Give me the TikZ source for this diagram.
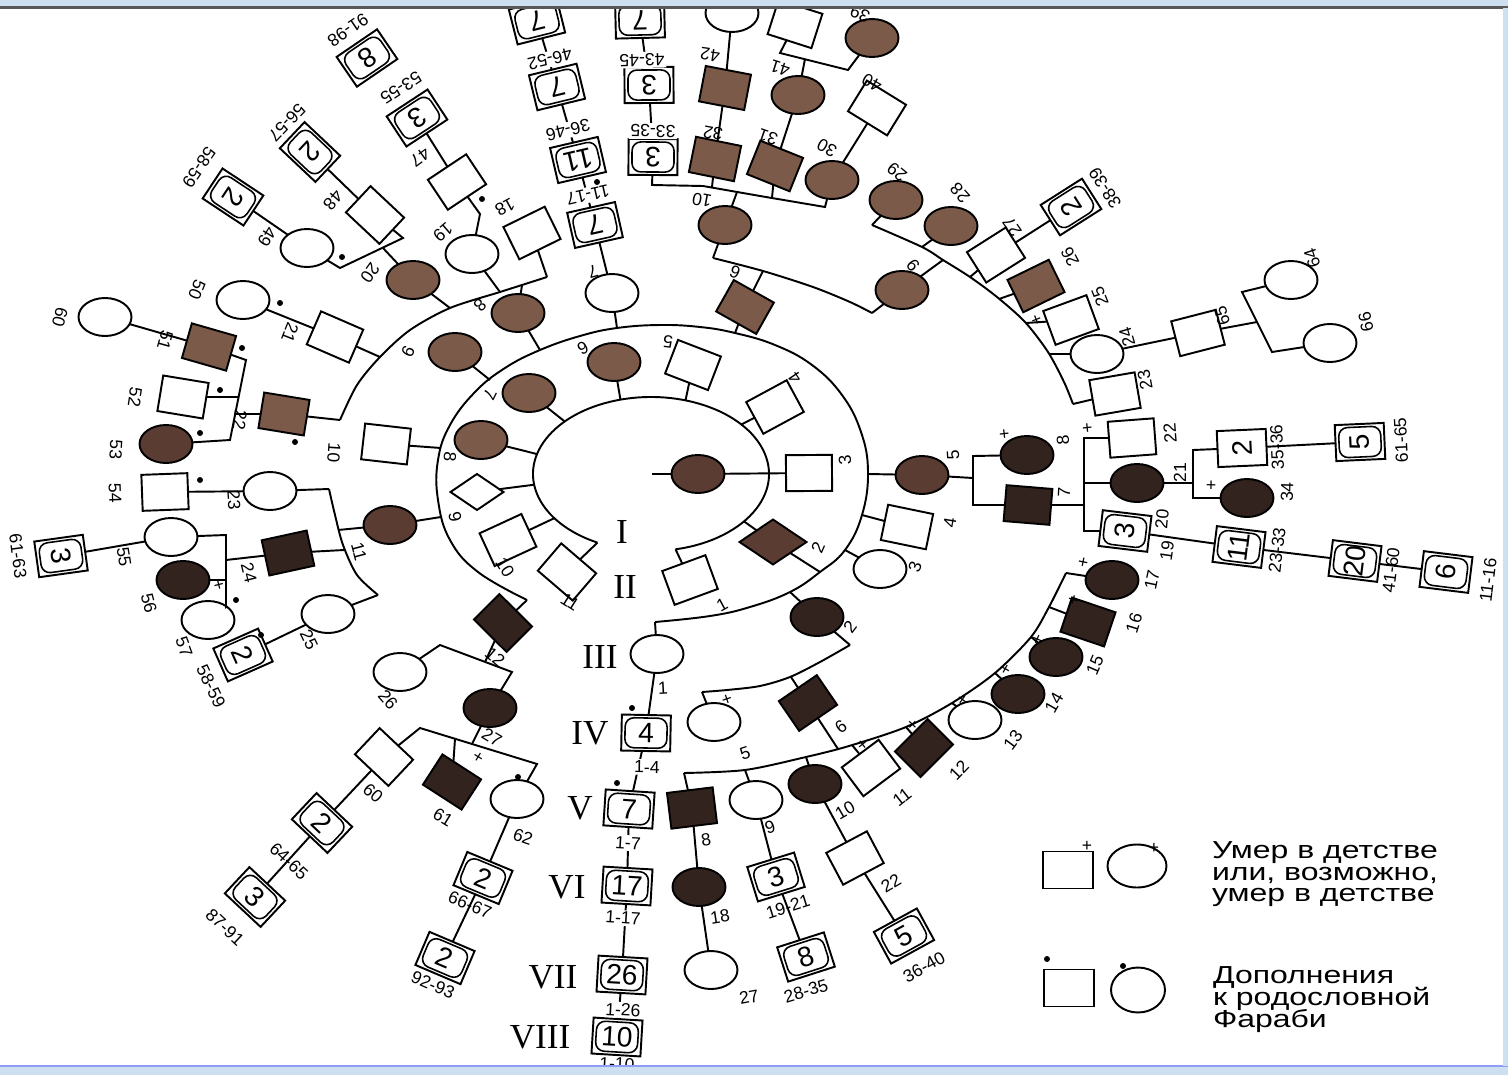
\documentclass[tikz,border=0pt]{standalone}
\usepackage{fontspec}
\setmainfont{Liberation Serif}
\newfontfamily\sansf{Liberation Sans}
\usetikzlibrary{shapes.geometric}
\definecolor{bA}{RGB}{124,90,74}
\definecolor{bB}{RGB}{90,60,50}
\definecolor{bC}{RGB}{50,35,31}
\definecolor{barblue}{RGB}{206,223,241}
\newcounter{lbc}
\newcounter{dtc}
\newcommand\radang[2]{atan2(474-(#2),(#1)-651)}
\newcommand\redang[2]{mod(\radang{#1}{#2}+405,90)-45}
\newcommand\pCI[4]{\node[ci,fill=#4] (#1) at (#2,#3) {};}
\newcommand\pSQ[4]{\node[sq,fill=#4,rotate={\redang{#2}{#3}}] (#1) at (#2,#3) {};}
\newcommand\pBXset[2]{%
  \pgfmathsetmacro\bR{\radang{#1}{#2}+90}%
  \pgfmathtruncatemacro\bk{mod(round((\bR+360)/90),2)}%
  \ifnum\bk=1 \def\bw{0.72cm}\def\bh{0.98cm}\def\bwi{15}\def\bhi{21}%
  \else \def\bw{0.98cm}\def\bh{0.72cm}\def\bwi{21}\def\bhi{15}\fi}
\newcommand\pBX[4]{\pBXset{#2}{#3}%
  \node[bxo,rotate=\bR,minimum width=\bw,minimum height=\bh] (#1) at (#2,#3) {#4};%
  \draw[rotate around={\bR:(#2,#3)},rounded corners=5pt,line width=0.9pt] (#2-\bwi,#3-\bhi) rectangle (#2+\bwi,#3+\bhi);}
\newcommand\pSQN[4]{\pBXset{#2}{#3}%
  \node[bxo,rotate=\bR,minimum width=\bw,minimum height=\bh] (#1) at (#2,#3) {#4};}
\newcommand\pLB[3]{\stepcounter{lbc}\node[lab,rotate={\radang{#1}{#2}+90}] (lb\arabic{lbc}) at (#1,#2) {#3};}
\newcommand\pLW[3]{\stepcounter{lbc}\node[lab,fill=white,inner sep=1pt,rotate={\radang{#1}{#2}+90}] (lb\arabic{lbc}) at (#1,#2) {#3};}
\newcommand\pDT[2]{\stepcounter{dtc}\node[dotn] (dt\arabic{dtc}) at (#1,#2) {};}
\newcommand\pCO[3]{\coordinate (#1) at (#2,#3);}
\begin{document}
\begin{tikzpicture}[x=0.02cm,y=-0.02cm,line width=1.1pt,
  every node/.style={inner sep=0pt,outer sep=0pt},
  ci/.style={draw,ellipse,minimum width=1.06cm,minimum height=0.76cm},
  sq/.style={draw,rectangle,minimum width=0.92cm,minimum height=0.72cm},
  dia/.style={draw,diamond,aspect=1.5},
  bxo/.style={draw,rectangle,fill=white,font=\sansf\fontsize{16}{16}\selectfont},
  lab/.style={font=\sansf\fontsize{10}{12}\selectfont},
  dotn/.style={circle,fill=black,minimum size=0.12cm},
  rn/.style={font=\fontsize{20}{20}\selectfont},
  lg/.style={font=\sansf\fontsize{14}{14}\selectfont,anchor=base west}]
\useasboundingbox (0,0) rectangle (1508,1075);
\fill[white] (0,0) rectangle (1508,1075);
% ---------- rings ----------
\draw (651,474) ++(117:118 and 77) arc[start angle=117,end angle=438,x radius=118,y radius=77];
\draw plot[smooth,tension=0.7] coordinates {(527,600) (478,572) (450,540) (438,500) (438,460) (450,425) (475,392) (505,368) (540,350) (580,336) (617,328) (660,325) (700,327) (735,333) (775,345) (812,365) (842,395) (861,432) (868,472) (862,515) (845,550) (820,572) (790,592) (750,607) (710,616) (655,622)};
\draw plot[smooth] coordinates {(850,645) (820,662) (790,677) (760,686) (727,690) (702,692)};
\draw plot[smooth] coordinates {(684,773) (745,770) (806,757) (849,746) (906,727) (952,703) (995,673) (1031,637) (1049,607) (1066,573)};
\draw plot[smooth] coordinates {(713,258) (763,271) (813,287) (850,302) (872,313)};
\draw plot[smooth] coordinates {(547,277) (522,285) (500,292) (450,308) (410,330) (380,357) (357,385) (340,420)};
\draw plot[smooth] coordinates {(872,225) (922,247) (943,260) (970,277) (997,297) (1025,322) (1048,352) (1064,382) (1073,404)};
\draw plot[smooth] coordinates {(329,489) (335,515) (343,545) (357,575) (378,595)};
% ---------- ring coordinates ----------
\path (651,474) ++(117:118 and 77) coordinate (r1a);
\path (651,474) ++(145:118 and 77) coordinate (r1b);
\path (651,474) ++(172:118 and 77) coordinate (r1c);
\path (651,474) ++(195:118 and 77) coordinate (r1d);
\path (651,474) ++(223:118 and 77) coordinate (r1e);
\path (651,474) ++(255:118 and 77) coordinate (r1f);
\path (651,474) ++(287:118 and 77) coordinate (r1g);
\path (651,474) ++(320:118 and 77) coordinate (r1h);
\path (651,474) ++(398:118 and 77) coordinate (r1i);
\path (651,474) ++(438:118 and 77) coordinate (r1j);
\pCO{c0}{652}{474}
\pCO{r2a}{527}{600}\pCO{r2b}{441}{517}\pCO{r2c}{441}{448}\pCO{r2d}{490}{380}
\pCO{r2e}{540}{350}\pCO{r2f}{617}{328}\pCO{r2g}{735}{333}\pCO{r2h}{868}{474}
\pCO{r2i}{862}{515}\pCO{r2j}{845}{550}\pCO{r2k}{820}{572}\pCO{r2l}{790}{592}\pCO{r2m}{655}{622}
\pCO{r3a}{850}{645}\pCO{r3b}{791}{677}\pCO{r3c}{702}{692}
\pCO{r4a}{684}{773}\pCO{r4b}{745}{770}\pCO{r4c}{806}{757}\pCO{r4d}{838}{749}
\pCO{r4e}{852}{745}\pCO{r4f}{906}{727}\pCO{r4g}{952}{703}\pCO{r4h}{995}{673}
\pCO{r4i}{1031}{637}\pCO{r4j}{1049}{607}\pCO{r4k}{1066}{573}
\pCO{r6a}{713}{258}\pCO{r6b}{763}{271}\pCO{r6c}{872}{313}
\pCO{r8a}{547}{277}\pCO{r8b}{522}{285}\pCO{r8c}{500}{292}\pCO{r8d}{450}{308}\pCO{r8e}{380}{357}\pCO{r8f}{340}{420}
\pCO{r9a}{872}{225}\pCO{r9b}{922}{247}\pCO{r9c}{943}{260}\pCO{r9d}{970}{277}
\pCO{r9e}{999}{299}\pCO{r9f}{1026}{323}\pCO{r9g}{1049}{354}\pCO{r9h}{1073}{404}
\pCO{r11a}{329}{489}\pCO{r11b}{338}{530}\pCO{r11c}{344}{550}\pCO{r11d}{378}{595}
\pCO{k2}{440}{645}\pCO{k3}{512}{672}\pCO{k4}{485}{662}
\pCO{k7}{420}{728}\pCO{k8}{537}{764}\pCO{k5}{472}{744}\pCO{k10}{455}{739}
\pCO{q1}{226}{535}\pCO{q2}{226}{607}\pCO{q3}{226}{560}\pCO{q4}{226}{580}
\pCO{p1}{246}{360}\pCO{p2}{230}{440}\pCO{p3}{239}{397}\pCO{p4}{235}{414}
\pCO{t1}{340}{268}\pCO{t2}{403}{238}\pCO{t3}{383}{248}
\pCO{u1}{480}{214}
\pCO{v1}{652}{185}\pCO{v2}{703}{186}\pCO{v3}{760}{196}\pCO{v4}{825}{207}\pCO{v5}{712}{187}\pCO{v6}{772}{198}\pCO{w1}{737}{192}
\pCO{y1}{780}{53}\pCO{y2}{848}{70}\pCO{y3}{805}{59}
\pCO{z1}{1242}{292}\pCO{z2}{1272}{352}\pCO{z3}{1257}{322}
\pCO{a1}{973}{456}\pCO{a2}{973}{505}\pCO{a3}{973}{478}
\pCO{b1}{1084}{438}\pCO{b2}{1084}{531}\pCO{b3}{1084}{505}\pCO{b4}{1084}{483}
\pCO{cc1}{1193}{450}\pCO{cc2}{1193}{498}\pCO{cc3}{1193}{483}
% ---------- generation I, II ----------
\pCI{g1}{698}{474}{bB}
\pSQ{g2k}{567}{572}{white}
\pSQ{g2j}{508}{540}{white}
\node[dia,fill=white,minimum width=1.06cm,minimum height=0.72cm] (g2i) at (477,492) {};
\pCI{g2h}{481}{440}{bA}
\pCI{g2g}{529}{393}{bA}
\pCI{g2f}{614}{362}{bA}
\pSQ{g2e}{693}{365}{white}
\pSQ{g2d}{775}{407}{white}
\pSQ{g2c}{809}{473}{white}
\node[dia,fill=bB,minimum width=1.34cm,minimum height=0.9cm] (g2b) at (773,542) {};
\pSQ{g2a}{690}{580}{white}
% ---------- generation III ----------
\pCI{g3a}{657}{654}{white}
\pCI{g3b}{817}{617}{bC}
\pCI{g3c}{880}{569}{white}
\pSQ{g3d}{907}{527}{white}
\pCI{g3e}{922}{475}{bB}
\pSQ{g3f}{745}{307}{bA}
\pCI{g3g}{612}{293}{white}
\pCI{g3h}{518}{313}{bA}
\pCI{g3i}{455}{352}{bA}
\pSQ{g3j}{386}{444}{white}
\pCI{g3k}{390}{525}{bB}
\pSQ{g3l}{503}{623}{bC}
% ---------- generation IV ----------
\pBX{g4bx}{646}{733}{4}
\pCI{g4e}{714}{722}{white}
\pSQ{g4f}{808}{703}{bC}
\pSQ{g4g}{1028}{505}{bC}
\pCI{g4h}{1027}{455}{bC}
\pCI{g4i}{902}{290}{bA}
\pCI{g4j}{725}{225}{bA}
\pBX{g4k}{595}{225}{7}
\pSQ{g4r}{532}{233}{white}
\pCI{g4s}{472}{254}{white}
\pCI{g4t}{413}{280}{bA}
\pSQ{g4u}{335}{337}{white}
\pSQ{g4v}{284}{414}{bA}
\pCI{g4w}{270}{491}{white}
\pSQ{g4x}{288}{553}{bC}
\pCI{g4y}{328}{614}{white}
\pCI{g4z}{400}{672}{white}
\pCI{g4zz}{490}{708}{bC}
% ---------- generation V ----------
\pBX{g5bx}{629}{809}{7}
\pSQ{g5h}{692}{808}{bC}
\pCI{g5i}{756}{800}{white}
\pCI{g5j}{815}{784}{bC}
\pSQ{g5k}{871}{768}{white}
\pSQ{g5l}{924}{748}{bC}
\pCI{g5m}{975}{720}{white}
\pCI{g5n}{1018}{694}{bC}
\pCI{g5o}{1056}{657}{bC}
\pSQ{g5p}{1088}{622}{bC}
\pCI{g5q}{1112}{580}{bC}
\pBX{g5bx3}{1125}{531}{3}
\pCI{g5u}{1137}{483}{bC}
\pSQ{g5v}{1132}{438}{white}
\pSQ{g5w}{1115}{394}{white}
\pCI{g5x}{1097}{354}{white}
\pSQ{g5y}{1071}{320}{white}
\pSQ{g5z}{1036}{286}{bA}
\pSQ{g5aa}{996}{255}{white}
\pCI{g5ab}{951}{226}{bA}
\pCI{g5ac}{896}{200}{bA}
\pCI{g5ad}{832}{180}{bA}
\pSQ{g5ae}{775}{166}{bA}
\pSQ{g5af}{715}{159}{bA}
\pBX{g5bx33}{653}{157}{3}
\pBX{g5bx36}{578}{160}{11}
\pSQ{g5at}{457}{182}{white}
\pSQ{g5au}{375}{215}{white}
\pCI{g5av}{307}{248}{white}
\pCI{g5aw}{243}{300}{white}
\pSQ{g5ax}{209}{347}{bA}
\pSQ{g5ay}{183}{397}{white}
\pCI{g5az}{166}{444}{bB}
\pSQ{g5ba}{165}{492}{white}
\pCI{g5bb}{171}{537}{white}
\pCI{g5bc}{183}{580}{bC}
\pCI{g5bd}{208}{620}{white}
\pBX{g5bx58}{243}{655}{2}
\pSQ{g5bg}{384}{757}{white}
\pSQ{g5bh}{452}{782}{bC}
\pCI{g5bi}{517}{799}{white}
\pSQN{g5two}{1242}{448}{2}
\pCI{g5ah}{1247}{498}{bC}
% ---------- generations VI-VIII ----------
\pBX{g5bx23}{1239}{547}{11}
\pBX{g6bx17}{627}{886}{17}
\pCI{g6r}{699}{887}{bC}
\pBX{g6bx19}{776}{877}{3}
\pSQ{g6v}{855}{858}{white}
\pBX{g6bx41}{1355}{561}{20}
\pBX{g6bx11}{1446}{572}{6}
\pBX{g6bx61}{1360}{442}{5}
\pBX{g6bx38}{1071}{207}{2}
\pSQ{g6ao}{877}{108}{white}
\pCI{g6ap}{798}{95}{bA}
\pSQ{g6aq}{725}{88}{bA}
\pBX{g6bx43}{649}{85}{3}
\pBX{g6bx46}{557}{87}{7}
\pBX{g6bx53}{417}{118}{3}
\pBX{g6bx56}{310}{152}{2}
\pBX{g6bx58}{233}{197}{2}
\pBX{g6bx61l}{61}{556}{3}
\pSQ{g6sq65}{1198}{333}{white}
\pCI{g6c64}{1291}{280}{white}
\pCI{g6c66}{1330}{343}{white}
\pCI{g6c60}{105}{317}{white}
\pBX{g6bx64}{322}{823}{2}
\pBX{g6bx66}{483}{878}{2}
\pCI{g6c39}{872}{38}{bA}
\pSQ{g6s39}{795}{24}{white}
\pBX{g7bx26}{622}{975}{26}
\pCI{g7c27}{711}{970}{white}
\pBX{g7bx28}{806}{957}{8}
\pBX{g7bx36}{904}{936}{5}
\pBX{g7bx87}{255}{897}{3}
\pBX{g7bx92}{445}{958}{2}
\pCI{g7ctop}{732}{13}{white}
\pBX{g7top1}{537}{21}{7}
\pBX{g7top2}{640}{20}{7}
\pBX{g7bx8}{367}{58}{8}
\pBX{g8bx10}{617}{1037}{10}
% ---------- connectors ----------
\draw (c0) -- (g1); \draw (g1) -- (g2c);
\draw (g2k)--(r1a); \draw (g2j)--(r1b); \draw (g2i)--(r1c); \draw (g2h)--(r1d);
\draw (g2g)--(r1e); \draw (g2f)--(r1f); \draw (g2e)--(r1g); \draw (g2d)--(r1h);
\draw (g2b)--(r1i); \draw (g2a)--(r1j); \draw (g2b)--(r2k);
\draw (g3l)--(r2a); \draw (g3k)--(r2b); \draw (g3j)--(r2c); \draw (g3i)--(r2d);
\draw (g3h)--(r2e); \draw (g3g)--(r2f); \draw (g3f)--(r2g); \draw (g3e)--(r2h);
\draw (g3d)--(r2i); \draw (g3c)--(r2j); \draw (g3b)--(r2l); \draw (g3a)--(r2m);
\draw (g3b)--(r3a);
\draw (g4f)--(r3b); \draw (g4e)--(r3c); \draw (g4f)--(r4d);
\draw (g5h)--(r4a); \draw (g5i)--(r4b); \draw (g5j)--(r4c); \draw (g5k)--(r4e);
\draw (g5l)--(r4f); \draw (g5m)--(r4g); \draw (g5n)--(r4h); \draw (g5o)--(r4i);
\draw (g5p)--(r4j); \draw (g5q)--(r4k);
\draw (g3a)--(g4bx); \draw (g4bx)--(g5bx); \draw (g5bx)--(g6bx17);
\draw (g6bx17)--(g7bx26); \draw (g7bx26)--(g8bx10);
\draw (g5h)--(g6r)--(g7c27); \draw (g5i)--(g6bx19)--(g7bx28); \draw (g5j)--(g6v)--(g7bx36);
\draw (g3l)--(k4); \draw (g4z) -- (k2) -- (k3) -- (g4zz); \draw (g4zz)--(k5);
\draw (g5bg) -- (k7) -- (k8) -- (g5bi); \draw (g5bh)--(k10);
\draw (g5bg)--(g6bx64)--(g7bx87); \draw (g5bi)--(g6bx66)--(g7bx92);
\draw (g4w)--(r11a); \draw (g3k)--(r11b); \draw (g4x)--(r11c); \draw (g4y)--(r11d);
\draw (g5ba)--(g4w); \draw (g5bb) -- (q1) -- (q2) -- (g5bd); \draw (g4x)--(q3);
\draw (g5bc)--(q4); \draw (g5bx58)--(g4y); \draw (g6bx61l)--(g5bb);
\draw (g4v)--(r8f); \draw (g5ax) -- (p1) -- (p2) -- (g5az); \draw (g5ay)--(p3);
\draw (g4v)--(p4); \draw (g5ax)--(g6c60);
\draw (g4u)--(r8e); \draw (g4u)--(g5aw);
\draw (g4t)--(r8d); \draw (g5av) -- (t1) -- (t2) -- (g5au); \draw (g4t)--(t3);
\draw (g6bx56)--(g5au); \draw (g6bx58)--(g5av);
\draw (g4s)--(r8c); \draw (g5at) -- (u1) -- (g4s); \draw (g6bx53)--(g5at);
\draw (g4r)--(r8a); \draw (g3h)--(r8b);
\draw (g3g)--(g4k); \draw (g4k)--(g5bx36); \draw (g5bx36)--(g6bx46); \draw (g6bx46)--(g7top1);
\draw (g4j)--(r6a); \draw (g3f)--(r6b); \draw (g4i)--(r6c); \draw (g4j)--(w1);
\draw (g5bx33) -- (v1) -- (v2) -- (v3) -- (v4) -- (g5ad); \draw (g5af)--(v5); \draw (g5ae)--(v6);
\draw (g5bx33)--(g6bx43); \draw (g6bx43)--(g7top2);
\draw (g5af)--(g6aq)--(g7ctop); \draw (g5ae)--(g6ap); \draw (g5ad)--(g6ao);
\draw (g6s39) -- (y1) -- (y2) -- (g6c39); \draw (g6ap)--(y3);
\draw (g5ac)--(r9a); \draw (g5ab)--(r9b); \draw (g4i)--(r9c); \draw (g5aa)--(r9d);
\draw (g5z)--(r9e); \draw (g5y)--(r9f); \draw (g5x)--(r9g); \draw (g5w)--(r9h);
\draw (g5aa)--(g6bx38); \draw (g5x)--(g6sq65); \draw (g6c64) -- (z1) -- (z2) -- (g6c66); \draw (g6sq65)--(z3);
\draw (g3e)--(a3); \draw (g4h) -- (a1) -- (a2) -- (g4g); \draw (g4g)--(b3);
\draw (g5v) -- (b1) -- (b2) -- (g5bx3); \draw (g5u)--(b4); \draw (g5u)--(cc3);
\draw (g5two) -- (cc1) -- (cc2) -- (g5ah); \draw (g5two)--(g6bx61);
\draw (g5bx3)--(g5bx23)--(g6bx41)--(g6bx11);
% ---------- labels ----------
\pLB{722}{605}{1}\pLB{818}{548}{2}\pLB{845}{460}{3}\pLB{795}{378}{4}\pLB{668}{342}{5}
\pLB{583}{348}{6}\pLB{490}{395}{7}\pLB{450}{457}{8}\pLB{455}{517}{9}\pLB{505}{567}{10}\pLB{570}{602}{11}
\pLW{663}{688}{1}\pLB{850}{627}{2}\pLB{915}{567}{3}\pLB{950}{523}{4}\pLB{953}{455}{5}
\pLB{735}{272}{6}\pLB{593}{272}{7}\pLB{480}{305}{8}\pLB{408}{352}{9}\pLB{334}{453}{10}
\pLB{359}{552}{11}\pLB{495}{657}{12}
\pLW{647}{767}{1-4}\pLB{745}{753}{5}\pLB{841}{727}{6}\pLB{1064}{492}{7}\pLB{1063}{440}{8}
\pLB{913}{265}{9}\pLB{702}{200}{10}\pLW{588}{195}{11-17}\pLB{505}{207}{18}\pLB{443}{232}{19}
\pLB{370}{273}{20}\pLB{290}{333}{21}\pLB{240}{420}{22}\pLB{234}{500}{23}\pLB{249}{573}{24}
\pLB{309}{640}{25}\pLB{388}{700}{26}\pLB{492}{737}{27}
\pLW{628}{843}{1-7}\pLB{706}{840}{8}\pLB{770}{827}{9}\pLB{845}{810}{10}\pLB{902}{797}{11}
\pLB{959}{770}{12}\pLB{1013}{740}{13}\pLB{1054}{703}{14}\pLB{1095}{665}{15}\pLB{1134}{623}{16}
\pLB{1152}{580}{17}\pLB{1162}{519}{20}\pLB{1167}{551}{19}\pLB{1180}{473}{21}\pLB{1170}{433}{22}
\pLB{1145}{380}{23}\pLB{1127}{337}{24}\pLB{1100}{297}{25}\pLB{1070}{257}{26}\pLB{1012}{227}{27}
\pLB{960}{193}{28}\pLB{897}{172}{29}\pLB{827}{148}{30}\pLB{768}{137}{31}\pLB{713}{133}{32}
\pLW{653}{131}{33-35}\pLW{568}{130}{36-46}\pLB{420}{157}{47}\pLB{333}{200}{48}\pLB{267}{237}{49}
\pLB{197}{290}{50}\pLB{165}{340}{51}\pLB{135}{397}{52}\pLB{116}{450}{53}\pLB{115}{493}{54}
\pLB{124}{557}{55}\pLB{149}{603}{56}\pLB{184}{647}{57}\pLB{211}{686}{58-59}\pLB{373}{793}{60}
\pLB{443}{817}{61}\pLB{523}{837}{62}
\pLW{623}{918}{1-17}\pLB{720}{917}{18}\pLB{788}{907}{19-21}\pLB{891}{883}{22}
\pLB{1277}{447}{35-36}\pLB{1287}{492}{34}\pLB{1401}{440}{61-65}\pLB{1277}{550}{23-33}
\pLB{1391}{570}{41-60}\pLB{1488}{580}{11-16}\pLB{1105}{188}{38-39}\pLB{872}{83}{40}
\pLB{780}{68}{41}\pLB{710}{55}{42}\pLW{642}{60}{43-45}\pLW{550}{59}{46-52}\pLB{401}{88}{53-55}
\pLB{287}{123}{56-57}\pLB{199}{167}{58-59}\pLB{18}{556}{61-63}\pLB{1222}{316}{65}
\pLB{1312}{258}{64}\pLB{1366}{322}{66}\pLB{60}{317}{60}\pLB{289}{861}{64-65}\pLB{470}{905}{66-67}
\pLB{860}{14}{39}
\pLW{623}{1010}{1-26}\pLB{749}{997}{27}\pLB{806}{991}{28-35}\pLB{924}{967}{36-40}
\pLB{225}{927}{87-91}\pLB{433}{985}{92-93}\pLB{348}{30}{91-98}\pLB{617}{1064}{1-10}
% plus marks
\pLB{727}{700}{+}\pLB{863}{745}{+}\pLB{913}{725}{+}\pLB{963}{700}{+}\pLB{1006}{670}{+}
\pLB{1038}{640}{+}\pLB{1074}{600}{+}\pLB{1084}{562}{+}\pLB{1005}{434}{+}\pLB{1088}{428}{+}
\pLB{1212}{485}{+}\pLB{1037}{320}{+}\pLB{478}{758}{+}\pLB{218}{585}{+}
% dots
\pDT{632}{708}\pDT{617}{783}\pDT{597}{182}\pDT{482}{199}\pDT{342}{257}\pDT{280}{303}
\pDT{242}{348}\pDT{220}{390}\pDT{200}{433}\pDT{295}{442}\pDT{200}{480}\pDT{236}{600}
\pDT{261}{635}\pDT{518}{777}
% roman numerals
\node[rn] (rI) at (622,532) {I};
\node[rn] (rII) at (625,587) {II};
\node[rn] (rIII) at (600,657) {III};
\node[rn] (rIV) at (590,733) {IV};
\node[rn] (rV) at (580,808) {V};
\node[rn] (rVI) at (567,887) {VI};
\node[rn] (rVII) at (553,977) {VII};
\node[rn] (rVIII) at (540,1037) {VIII};
% ---------- legend ----------
\node[sq,minimum width=1.0cm,minimum height=0.74cm] (lgs1) at (1068,870) {};
\node[ci,minimum width=1.18cm,minimum height=0.86cm] (lgc1) at (1137,866) {};
\node[lab] (lgp1) at (1087,846) {+};
\node[lab] (lgp2) at (1154,848) {+};
\node[sq,minimum width=1.0cm,minimum height=0.74cm] (lgs2) at (1069,988) {};
\node[ci,minimum width=1.08cm,minimum height=0.9cm] (lgc2) at (1138,990) {};
\node[dotn] (lgd1) at (1047,959) {};
\node[dotn] (lgd2) at (1123,966) {};
\node[lg] (lgt1) at (1212,858) {\scalebox{1.3}[1]{Умер в детстве}};
\node[lg] (lgt2) at (1212,880) {\scalebox{1.3}[1]{или, возможно,}};
\node[lg] (lgt3) at (1212,901) {\scalebox{1.3}[1]{умер в детстве}};
\node[lg] (lgt4) at (1213,983) {\scalebox{1.3}[1]{Дополнения}};
\node[lg] (lgt5) at (1213,1005) {\scalebox{1.3}[1]{к родословной}};
\node[lg] (lgt6) at (1213,1027) {\scalebox{1.3}[1]{Фараби}};
% ---------- frame bars ----------
\fill[barblue] (0,0) rectangle (1508,7);
\draw[line width=1.3pt,black!65] (0,7.5) -- (1508,7.5);
\fill[barblue] (0,1066) rectangle (1508,1075);
\draw[line width=0.6pt,barblue!70!blue] (0,1066) -- (1508,1066);
\fill[barblue] (1503,8) rectangle (1508,1066);
\end{tikzpicture}
\end{document}
